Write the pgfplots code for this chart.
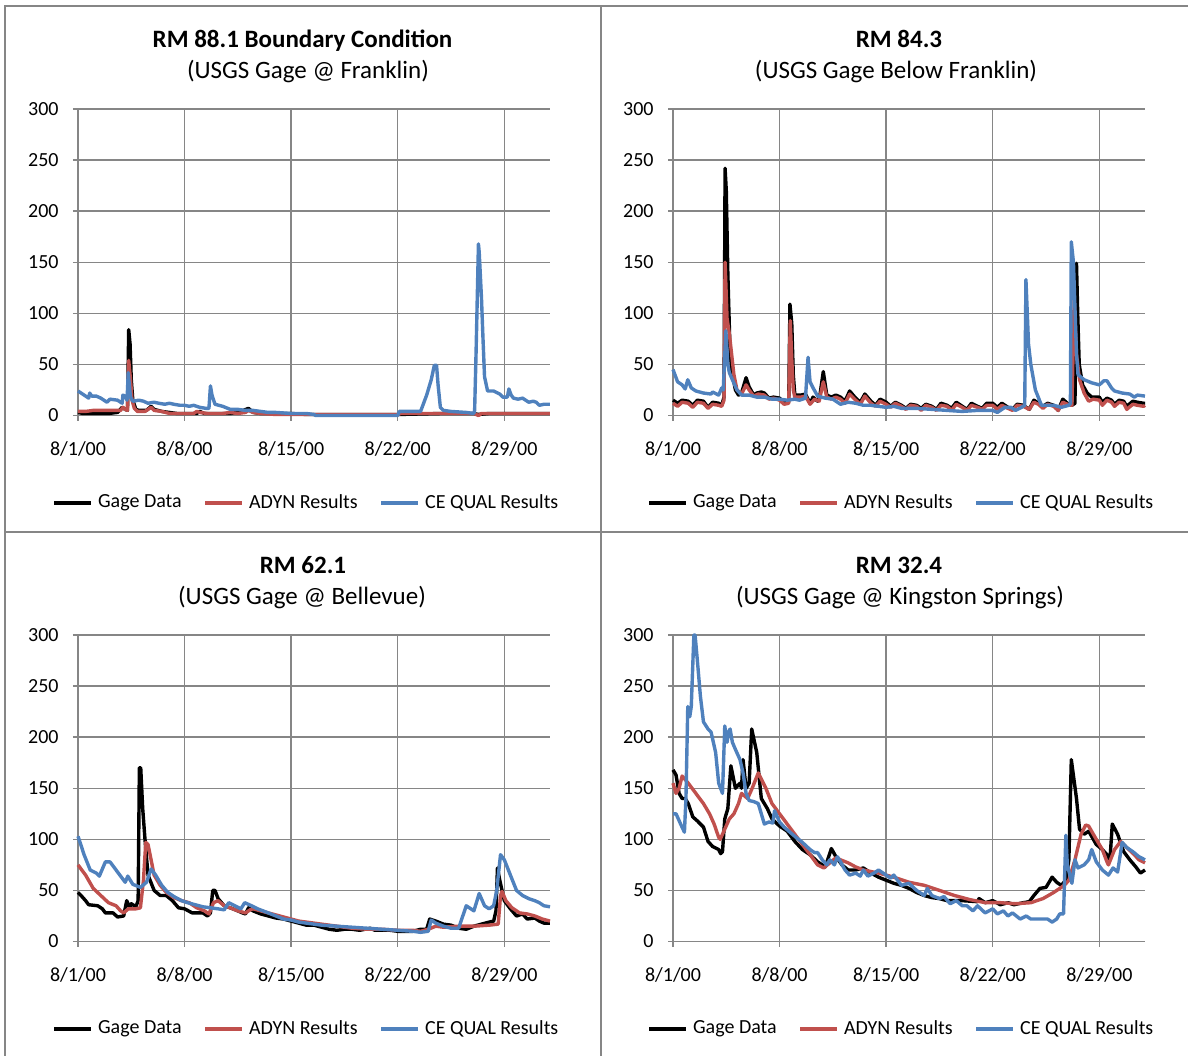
\documentclass[border=0pt]{standalone}
\usepackage{pgfplots}
\pgfplotsset{compat=1.18}
\usepackage{fontspec}
\setmainfont{Carlito}
\definecolor{gridgrey}{RGB}{134,134,134}
\definecolor{adyn}{RGB}{192,80,77}
\definecolor{cequal}{RGB}{79,129,189}
\pgfplotsset{panel/.style={
  scale only axis, width=236pt, height=153.25pt,
  xmin=0, xmax=31, ymin=0, ymax=300, clip=false,
  xtick={0,7,14,21,28}, xticklabels={8/1/00,8/8/00,8/15/00,8/22/00,8/29/00},
  ytick={0,50,...,300},
  axis x line*=bottom, axis y line*=left,
  axis line style={gridgrey, line width=0.75pt, -},
  grid=major, major grid style={gridgrey, line width=0.75pt},
  tick align=outside, major tick length=2.5pt,
  tick style={gridgrey, line width=0.75pt},
  ticklabel style={font=\fontsize{10}{12}\selectfont, text=black},
  /pgf/number format/assume math mode=true,
  yticklabel style={anchor=east, inner sep=0pt, xshift=-7pt},
  xticklabel style={anchor=base, inner sep=0pt, yshift=-17.5pt},
  legend columns=3,
  legend style={draw=none, fill=none, at={(0.482,-0.285)}, anchor=center,
    font=\fontsize{10}{12}\selectfont, inner sep=0pt,
    nodes={inner sep=0pt},
    /tikz/every odd column/.append style={column sep=2.5pt},
    /tikz/every even column/.append style={column sep=11pt}},
  legend image code/.code={\draw[##1] (0pt,0pt) -- (18.5pt,0pt);},
  every axis plot/.append style={line width=1.7pt, line join=round},
}}
\begin{document}
\begin{tikzpicture}
\useasboundingbox (0,0) rectangle (594pt,-527.5pt);
\begin{scope}[x=0.5pt,y=-0.5pt]
\draw[gridgrey, line width=0.75pt] (5,1070) -- (5,6) -- (1200,6);
\draw[gridgrey, line width=0.75pt] (601,6) -- (601,1070);
\draw[gridgrey, line width=0.75pt] (5,532) -- (1200,532);
\node[anchor=base, font=\fontsize{12.5}{15}\selectfont\bfseries] at (302.5,47) {RM 88.1 Boundary Condition};
\node[anchor=base, font=\fontsize{12.5}{15}\selectfont] at (308,78) {(USGS Gage @ Franklin)};
\node[anchor=base, font=\fontsize{12.5}{15}\selectfont\bfseries] at (899,47) {RM 84.3};
\node[anchor=base, font=\fontsize{12.5}{15}\selectfont] at (896,78) {(USGS Gage Below Franklin)};
\node[anchor=base, font=\fontsize{12.5}{15}\selectfont\bfseries] at (303,573) {RM 62.1};
\node[anchor=base, font=\fontsize{12.5}{15}\selectfont] at (302,604) {(USGS Gage @ Bellevue)};
\node[anchor=base, font=\fontsize{12.5}{15}\selectfont\bfseries] at (899,573) {RM 32.4};
\node[anchor=base, font=\fontsize{12.5}{15}\selectfont] at (900,604) {(USGS Gage @ Kingston Springs)};
\end{scope}

% Panel 1
\begin{axis}[panel, at={(39pt,-207.75pt)}, anchor=south west]
\addplot[black] coordinates {(0,3) (0.3,2) (1,2) (2,2) (2.6,3) (2.9,8) (3.1,6) (3.25,5) (3.33,84) (3.42,70) (3.5,35) (3.6,15) (3.8,6) (4,5) (4.5,5) (4.8,9) (5,6) (5.5,4) (6,3) (6.5,2) (7,2) (7.8,2) (8,4) (8.3,2) (9,2) (10,2) (10.5,3) (11.2,7) (11.5,3) (12,2) (13,2) (14,2) (15,1) (16,1) (21,1) (24,2) (26,2) (26.3,1) (27,2) (31,2)};
\addplot[adyn] coordinates {(0,4) (0.5,4) (1,5) (2,5) (2.5,5) (2.8,5) (2.95,8) (3.1,6) (3.25,5) (3.33,54) (3.45,35) (3.55,15) (3.7,7) (3.9,4) (4.4,4) (4.8,8) (5,5) (5.5,4) (6,2) (7,2) (7.6,2) (7.8,4) (8,3) (8.5,2) (9,2) (9.5,2) (10,3) (10.5,2) (11,3) (11.2,5) (11.5,3) (12,2) (13,1) (14,1) (15,1) (21,1) (21.2,2) (26,2) (26.3,0) (26.5,2) (31,2)};
\addplot[cequal] coordinates {(0,24) (0.3,21) (0.6,18) (0.7,17) (0.77,22) (0.9,19) (1.2,19) (1.5,17) (1.9,13) (2.1,16) (2.6,15) (2.9,12) (2.95,20) (3.1,19) (3.22,15) (3.3,42) (3.4,25) (3.45,18) (3.6,14) (4,15) (4.3,14) (4.6,12) (5,13) (5.3,12) (5.7,11) (6,12) (6.3,11) (6.7,10) (7,10) (7.3,9) (7.6,10) (8,8) (8.4,7) (8.6,7) (8.7,29) (8.8,20) (9,11) (9.5,9) (10,6) (10.5,6) (11,5) (11.5,5) (12,4) (12.5,3) (13,3) (14,2) (15,2) (15.5,1) (15.6,0) (21,0) (21.1,4) (22.5,4) (22.9,20) (23.2,35) (23.4,49) (23.55,49) (23.65,30) (23.8,8) (24,5) (24.5,4) (25.5,3) (26,2) (26.05,5) (26.15,65) (26.3,168) (26.35,160) (26.5,115) (26.6,75) (26.7,38) (26.9,24) (27.3,24) (27.7,21) (27.9,18) (28.2,18) (28.3,26) (28.45,20) (28.6,17) (28.9,16) (29.2,17) (29.6,13) (29.9,14) (30.1,13) (30.3,10) (30.6,11) (31,11)};
\legend{Gage Data, ADYN Results, CE QUAL Results}
\end{axis}

% Panel 2
\begin{axis}[panel, at={(336.5pt,-207.75pt)}, anchor=south west]
\addplot[black] coordinates {(0,15) (0.3,12) (0.6,15) (1,14) (1.3,10) (1.6,15) (2,14) (2.3,8) (2.6,13) (3,12) (3.2,10) (3.35,18) (3.42,242) (3.5,220) (3.6,140) (3.75,60) (3.9,40) (4.1,25) (4.3,20) (4.5,22) (4.8,37) (5,28) (5.3,20) (5.5,22) (5.8,23) (6,22) (6.3,17) (6.6,18) (7,17) (7.3,12) (7.6,13) (7.68,109) (7.8,90) (7.9,40) (8,20) (8.4,20) (8.7,21) (9,12) (9.2,18) (9.5,14) (9.65,20) (9.87,43) (10.1,20) (10.4,18) (10.7,20) (11,18) (11.3,14) (11.6,24) (12,17) (12.3,13) (12.6,21) (13,14) (13.3,10) (13.6,16) (14,13) (14.3,9) (14.6,13) (15,10) (15.3,7) (15.6,11) (16,10) (16.3,7) (16.6,11) (17,9) (17.3,6) (17.6,12) (18,10) (18.3,7) (18.6,13) (19,9) (19.3,6) (19.6,12) (20,9) (20.3,7) (20.6,12) (21,12) (21.3,8) (21.6,12) (22,8) (22.3,6) (22.6,11) (23,10) (23.4,6) (23.7,15) (24,12) (24.3,9) (24.6,12) (25,10) (25.3,5) (25.6,16) (25.9,12) (26.2,10) (26.4,12) (26.5,149) (26.58,100) (26.68,50) (26.9,30) (27.2,22) (27.5,18) (27.8,18) (28,18) (28.2,13) (28.5,17) (28.8,15) (29,11) (29.3,15) (29.6,14) (29.8,9) (30.2,14) (30.5,13) (30.9,12) (31,12)};
\addplot[adyn] coordinates {(0,12) (0.3,9) (0.6,13) (1,12) (1.3,8) (1.6,13) (2,12) (2.3,7) (2.6,11) (3,10) (3.2,9) (3.35,15) (3.42,150) (3.55,95) (3.7,80) (3.85,60) (4.0,40) (4.2,25) (4.5,21) (4.8,30) (5,25) (5.3,19) (5.6,21) (6,20) (6.3,16) (6.6,17) (7,15) (7.3,11) (7.6,12) (7.7,93) (7.8,55) (7.9,25) (8,18) (8.4,18) (8.7,19) (9,11) (9.3,16) (9.6,14) (9.87,33) (10.1,18) (10.4,16) (10.7,18) (11,16) (11.3,12) (11.6,21) (12,15) (12.3,11) (12.6,19) (13,12) (13.3,9) (13.6,14) (14,11) (14.3,8) (14.6,12) (15,9) (15.3,6) (15.6,10) (16,9) (16.3,5) (16.6,10) (17,8) (17.3,5) (17.6,10) (18,9) (18.3,5) (18.6,11) (19,8) (19.3,5) (19.6,10) (20,8) (20.3,6) (20.6,10) (21,10) (21.3,6) (21.6,10) (22,7) (22.3,5) (22.6,10) (23,9) (23.4,6) (23.7,13) (24,11) (24.3,7) (24.6,11) (25,9) (25.3,5) (25.6,13) (25.9,11) (26.2,10) (26.35,115) (26.5,60) (26.7,35) (27,22) (27.3,14) (27.6,16) (28,15) (28.2,10) (28.5,15) (28.8,13) (29,9) (29.3,13) (29.6,12) (29.8,6) (30.2,11) (30.5,10) (30.9,9) (31,10)};
\addplot[cequal] coordinates {(0,45) (0.3,33) (0.6,30) (0.8,26) (0.97,35) (1.2,27) (1.5,24) (2,22) (2.5,21) (2.6,23) (3.0,20) (3.2,27) (3.3,25) (3.47,83) (3.6,50) (3.7,42) (3.9,35) (4.2,25) (4.5,20) (5,20) (5.5,18) (6,18) (6.5,16) (7,16) (7.5,15) (8,16) (8.3,15) (8.7,17) (8.87,57) (9.0,33) (9.2,27) (9.5,19) (10,17) (10.5,16) (11,11) (11.5,13) (12,12) (12.5,10) (13,10) (13.5,9) (14,8) (14.5,9) (15,7) (16,7) (17,6) (18,5) (19,4) (20,5) (21,5) (21.3,3) (21.8,8) (22.2,8) (22.5,5) (22.9,8) (23.1,10) (23.18,133) (23.35,70) (23.5,50) (23.8,25) (24.2,10) (24.5,10) (25,10) (25.5,8) (26,10) (26.1,12) (26.16,170) (26.3,150) (26.5,60) (26.6,40) (27,35) (27.5,32) (28,30) (28.3,34) (28.5,34) (28.8,27) (29.0,24) (29.5,22) (30,21) (30.3,18) (30.5,20) (31,19)};
\legend{Gage Data, ADYN Results, CE QUAL Results}
\end{axis}

% Panel 3
\begin{axis}[panel, at={(39pt,-470.75pt)}, anchor=south west]
\addplot[black] coordinates {(0,48) (0.2,45) (0.5,40) (0.7,36) (1.3,35) (1.6,32) (1.8,28) (2.3,28) (2.6,24) (3.0,25) (3.2,40) (3.4,33) (3.5,37) (3.8,34) (3.95,40) (4.03,170) (4.12,170) (4.25,130) (4.4,100) (4.6,65) (5.0,50) (5.4,45) (5.8,45) (6.2,40) (6.6,33) (7.0,32) (7.5,28) (8.2,28) (8.5,25) (8.7,28) (8.85,50) (9.0,50) (9.2,42) (9.6,35) (10,33) (10.5,30) (10.8,28) (11,27) (11.2,33) (11.5,30) (12,27) (12.5,25) (13,23) (13.5,22) (14,20) (14.5,18) (15,16) (15.5,16) (16,14) (16.5,12) (17,11) (17.5,12) (18,12) (18.5,11) (19.2,13) (19.5,11) (20.5,11) (21,10) (22,10) (22.5,12) (22.9,12) (23.1,22) (23.5,20) (24,17) (24.5,16) (25,13) (25.5,12) (26,15) (26.5,17) (27,19) (27.3,20) (27.45,30) (27.55,72) (27.7,60) (28.0,40) (28.4,32) (28.8,25) (29.2,27) (29.5,22) (30,23) (30.3,20) (30.6,18) (31,18)};
\addplot[adyn] coordinates {(0,75) (0.5,65) (1,52) (1.5,45) (2,38) (2.5,35) (2.8,30) (3.0,28) (3.3,32) (3.8,32) (4.1,33) (4.3,60) (4.45,97) (4.6,95) (4.8,80) (5.0,65) (5.4,55) (5.8,48) (6.3,43) (6.8,40) (7.3,38) (7.8,33) (8.3,30) (8.6,27) (8.9,38) (9.2,40) (9.6,35) (10,33) (10.5,30) (11,28) (11.3,31) (11.5,32) (12,30) (12.5,28) (13,26) (13.5,24) (14,22) (14.5,20) (15,19) (16,17) (17,15) (18,13) (19,12) (20,12) (21,11) (22,11) (22.5,10) (23,12) (23.5,15) (24,14) (25,15) (26,15) (27,16) (27.6,17) (27.75,45) (27.85,49) (28.1,40) (28.5,33) (29,28) (29.5,27) (30,25) (30.5,22) (31,20)};
\addplot[cequal] coordinates {(0,103) (0.4,85) (0.8,70) (1.2,67) (1.4,64) (1.8,78) (2.1,78) (2.5,70) (2.9,62) (3.1,58) (3.27,64) (3.6,56) (4.1,53) (4.5,58) (4.8,71) (5.1,65) (5.5,55) (5.9,48) (6.3,44) (6.8,40) (7.2,38) (7.7,36) (8.2,34) (8.7,33) (9.2,32) (9.6,31) (9.9,38) (10.3,35) (10.7,32) (10.95,38) (11.4,35) (11.8,32) (12.5,28) (13,25) (13.5,22) (14,21) (14.5,19) (15,18) (16,16) (17,15) (18,14) (19,13) (20,12) (21,11) (22,10) (22.5,9) (23,10) (23.2,21) (23.5,18) (24,15) (24.5,13) (25,13) (25.5,35) (26,30) (26.35,47) (26.7,35) (27,32) (27.3,35) (27.5,50) (27.75,85) (28.0,80) (28.4,65) (28.8,50) (29.2,45) (29.6,42) (30,40) (30.3,38) (30.6,35) (31,34)};
\legend{Gage Data, ADYN Results, CE QUAL Results}
\end{axis}

% Panel 4
\begin{axis}[panel, at={(336.5pt,-470.75pt)}, anchor=south west]
\addplot[black] coordinates {(0,168) (0.2,163) (0.4,145) (0.6,140) (0.8,140) (1.0,135) (1.3,122) (1.6,118) (2,112) (2.3,98) (2.6,93) (3.0,90) (3.13,86) (3.25,88) (3.4,120) (3.6,130) (3.8,172) (4.1,150) (4.4,155) (4.5,150) (4.6,178) (4.8,150) (5.0,155) (5.17,208) (5.5,185) (5.8,140) (6.2,130) (6.5,120) (7,113) (7.5,108) (8,98) (8.5,90) (9,85) (9.5,78) (10,73) (10.4,91) (10.7,83) (11.1,75) (11.5,70) (12,70) (12.5,72) (13,67) (13.5,63) (14,60) (14.5,57) (15,55) (15.5,52) (16,48) (16.5,45) (17,43) (17.5,42) (18,40) (19,40) (20,39) (20.1,42) (20.5,38) (21,40) (21.5,36) (22,38) (22.4,36) (23,38) (23.4,39) (23.7,45) (24.1,52) (24.5,53) (24.9,63) (25.2,58) (25.5,55) (25.8,60) (26.0,80) (26.16,178) (26.5,140) (26.7,110) (27,105) (27.3,108) (27.8,95) (28.2,90) (28.5,85) (28.7,80) (28.85,115) (29.2,105) (29.6,88) (30,80) (30.4,73) (30.7,67) (31,70)};
\addplot[adyn] coordinates {(0,155) (0.2,145) (0.4,150) (0.6,162) (1.0,155) (1.5,145) (2,135) (2.4,125) (2.7,115) (3.0,102) (3.1,100) (3.4,110) (3.7,120) (4.0,125) (4.3,135) (4.5,145) (4.9,140) (5.2,150) (5.6,165) (6.1,150) (6.5,135) (7.0,125) (7.5,115) (8,105) (8.5,95) (9,85) (9.5,75) (9.9,72) (10.3,77) (10.7,82) (11,80) (11.5,77) (12,73) (12.5,70) (13.5,67) (14.5,63) (15.5,58) (16.5,55) (17.5,50) (18.5,45) (19.5,41) (20.5,38) (21.5,38) (22.5,37) (23.5,38) (24.3,42) (25,48) (25.7,55) (26.0,60) (26.4,80) (26.8,105) (27.1,114) (27.3,113) (27.8,100) (28.2,90) (28.5,78) (28.6,75) (29,90) (29.4,98) (29.8,92) (30.3,85) (30.6,80) (31,77)};
\addplot[cequal] coordinates {(0,125) (0.2,125) (0.5,115) (0.75,107) (0.85,140) (0.97,230) (1.1,220) (1.2,230) (1.37,300) (1.45,300) (1.6,275) (1.8,240) (2.0,215) (2.3,208) (2.5,205) (2.8,185) (3.0,155) (3.25,145) (3.4,211) (3.55,195) (3.65,205) (3.75,208) (3.9,195) (4.1,188) (4.4,178) (4.6,165) (4.8,145) (5.0,138) (5.3,137) (5.6,135) (5.8,125) (6.0,115) (6.3,117) (6.55,116) (6.67,128) (7.0,117) (7.3,112) (7.6,108) (8,103) (8.5,97) (9,90) (9.3,87) (9.5,87) (9.8,80) (10.1,75) (10.3,80) (10.6,75) (10.8,83) (11.0,78) (11.3,70) (11.6,65) (12,67) (12.3,64) (12.5,70) (12.8,64) (13.2,67) (13.5,70) (14,65) (14.3,62) (14.5,65) (15,55) (15.5,57) (16,50) (16.5,45) (16.7,52) (17,45) (17.5,42) (17.8,44) (18.2,37) (18.6,40) (19,35) (19.3,35) (19.7,30) (20,35) (20.5,28) (21,32) (21.3,27) (21.7,30) (22,25) (22.3,28) (22.8,22) (23.2,25) (23.5,22) (24,22) (24.6,22) (24.9,19) (25.2,22) (25.4,27) (25.65,27) (25.8,104) (25.9,75) (26.2,57) (26.4,80) (26.6,72) (27,75) (27.3,80) (27.5,90) (27.8,78) (28.2,70) (28.6,65) (28.9,72) (29.2,68) (29.5,97) (29.8,92) (30.2,88) (30.6,83) (31,80)};
\legend{Gage Data, ADYN Results, CE QUAL Results}
\end{axis}
\end{tikzpicture}
\end{document}
